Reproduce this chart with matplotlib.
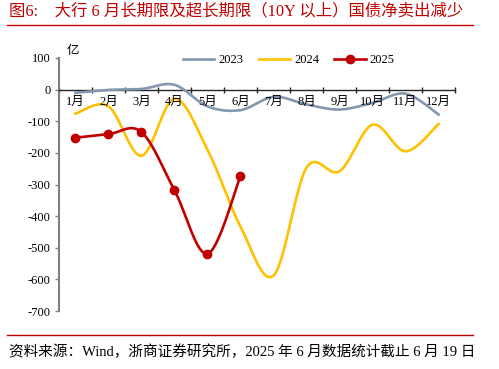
import numpy as np
import matplotlib
matplotlib.use('Agg')
import matplotlib.pyplot as plt
from matplotlib.lines import Line2D

plt.rcParams['font.family'] = ['Liberation Serif', 'Noto Sans CJK SC', 'DejaVu Sans']

months = ['1月', '2月', '3月', '4月', '5月', '6月', '7月', '8月', '9月', '10月', '11月', '12月']
s2023 = [-10, -1, 2, 15, -53, -65, -23, -47, -63, -42, -13, -79]
s2024 = [-76, -53, -209, -29, -190, -433, -588, -247, -258, -111, -195, -109]
s2025 = [-152, -141, -134, -318, -519, -274]
yticks = [100, 0, -100, -200, -300, -400, -500, -600, -700]

C2023 = '#8497B0'
C2024 = '#FFC000'
C2025 = '#C00000'


def smooth(x, y, n=30):
    # Excel-like smoothed line: Catmull-Rom as cubic Bezier
    x = np.asarray(x, float)
    y = np.asarray(y, float)
    px = np.concatenate([[x[0]], x, [x[-1]]])
    py = np.concatenate([[y[0]], y, [y[-1]]])
    xs, ys = [], []
    t = np.linspace(0, 1, n)
    for i in range(1, len(px) - 2):
        p0 = np.array([px[i - 1], py[i - 1]])
        p1 = np.array([px[i], py[i]])
        p2 = np.array([px[i + 1], py[i + 1]])
        p3 = np.array([px[i + 2], py[i + 2]])
        c1 = p1 + (p2 - p0) / 6
        c2 = p2 - (p3 - p1) / 6
        b = ((1 - t) ** 3)[:, None] * p1 + (3 * (1 - t) ** 2 * t)[:, None] * c1 \
            + (3 * (1 - t) * t ** 2)[:, None] * c2 + (t ** 3)[:, None] * p2
        xs.append(b[:, 0])
        ys.append(b[:, 1])
    return np.concatenate(xs), np.concatenate(ys)


fig = plt.figure(figsize=(4.99, 3.69), dpi=100)
ax = fig.add_axes([0.118, 0.157, 0.794, 0.686])

x = np.arange(len(months))
lw = 1.9
ax.plot(*smooth(x, s2023), color=C2023, lw=lw, zorder=3)
ax.plot(*smooth(x, s2024), color=C2024, lw=lw, zorder=3)
x25 = np.arange(len(s2025))
ax.plot(*smooth(x25, s2025), color=C2025, lw=lw, zorder=4)
ax.plot(x25, s2025, 'o', color=C2025, ms=6, zorder=5)

ax.set_xlim(-0.5, len(months) - 0.5)
ax.set_ylim(-700, 100)
ax.set_yticks(yticks)
ax.set_yticklabels([str(v) for v in yticks], fontsize=9)

# x axis drawn at y=0, ticks on category boundaries
ax.spines['bottom'].set_position(('data', 0))
ax.spines['bottom'].set_color('#262626')
ax.spines['bottom'].set_linewidth(1.0)
ax.spines['left'].set_color('#808080')
ax.spines['left'].set_linewidth(1.5)
ax.spines['top'].set_visible(False)
ax.spines['right'].set_visible(False)
ax.set_xticks(np.arange(-0.5, len(months), 1.0))
ax.set_xticklabels([])
ax.tick_params(axis='x', direction='inout', length=5, width=1, color='#262626')
ax.tick_params(axis='y', direction='out', length=3, width=1, color='#808080', pad=3)
for i, m in enumerate(months):
    ax.text(i, -19, m, ha='center', va='top', fontsize=9)

ax.text(0.02, 1.005, '亿', transform=ax.transAxes, fontsize=9, va='bottom', ha='left')

handles = [Line2D([], [], color=C2023, lw=lw),
           Line2D([], [], color=C2024, lw=lw),
           Line2D([], [], color=C2025, lw=lw, marker='o', ms=6)]
ax.legend(handles, ['2023', '2024', '2025'], ncol=3, frameon=False, fontsize=9,
          loc='upper left', bbox_to_anchor=(0.285, 1.06), handlelength=2.5,
          columnspacing=1.2, handletextpad=0.35)

fig.text(0.018, 0.968, '图6:    大行 6 月长期限及超长期限（10Y 以上）国债净卖出减少',
         color=C2025, fontsize=11.8, ha='left', va='center')
fig.add_artist(Line2D([0.014, 0.948], [0.932, 0.932], color=C2025, lw=1.0))
fig.add_artist(Line2D([0.014, 0.948], [0.093, 0.093], color=C2025, lw=1.0))
fig.text(0.018, 0.046, '资料来源：Wind，浙商证券研究所，2025 年 6 月数据统计截止 6 月 19 日',
         fontsize=10.5, ha='left', va='center')

fig.savefig('out.png', dpi=100)
